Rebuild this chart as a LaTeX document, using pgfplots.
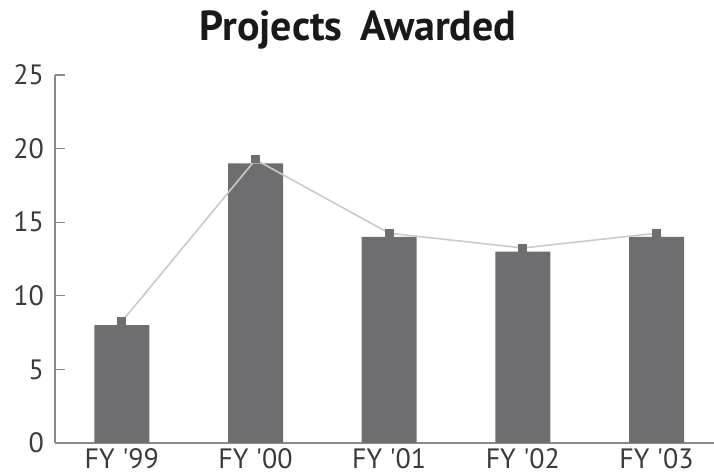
\documentclass[border=0pt]{standalone}
\usepackage{fontspec}
\setmainfont{PT Sans}
\usepackage{pgfplots}
\pgfplotsset{compat=1.18}

\definecolor{barcol}{HTML}{6E6E70}
\definecolor{linecol}{HTML}{CACACA}
\definecolor{axcol}{HTML}{8A8A8A}
\definecolor{txtcol}{HTML}{3A3A3A}

\begin{document}
\begin{tikzpicture}[x=0.5pt,y=0.5pt]
\path[use as bounding box] (0,0) rectangle (714,476);
\node[font=\bfseries\fontsize{21}{24}\selectfont, text=black!90] at (358,446) {Projects\ \,Awarded};
\begin{axis}[
    at={(27.5pt,16.5pt)}, anchor=south west,
    scale only axis,
    width=329.5pt, height=184pt,
    xmin=-0.5, xmax=4.43,
    ymin=0, ymax=25,
    clip=false,
    axis lines*=left,
    axis line style={axcol, line width=0.8pt},
    xtick={0,...,4},
    xticklabels={FY \textquotesingle 99,FY \textquotesingle 00,FY \textquotesingle 01,FY \textquotesingle 02,FY \textquotesingle 03},
    extra x ticks={0.5,1.5,2.5,3.5},
    extra x tick labels={},
    extra x tick style={major tick length=5pt, tick style={axcol, line width=0.6pt}},
    x tick style={draw=none},
    ytick={0,5,...,25},
    y tick style={axcol, line width=0.6pt},
    major tick length=5pt,
    tick align=inside,
    ticklabel style={font=\fontsize{14}{16}\selectfont, text=txtcol},
    /pgf/number format/assume math mode=true,
    xticklabel style={yshift=0.8pt},
    yticklabel style={xshift=-2pt},
]
\addplot[ybar, bar width=27.5pt, fill=barcol, draw=none, bar shift=0pt]
  coordinates {(0,8) (1,19) (2,14) (3,13) (4,14)};
\addplot[linecol, line width=0.8pt, mark=none]
  coordinates {(0,8.25) (1,19.25) (2,14.25) (3,13.25) (4,14.25)};
\addplot[draw=none, mark=none,
    error bars/.cd, y dir=plus, y explicit,
    error bar style={barcol, line width=4.5pt}, error mark=none]
  coordinates {(0,8) +- (0,0.55) (1,19) +- (0,0.55) (2,14) +- (0,0.55) (3,13) +- (0,0.55) (4,14) +- (0,0.55)};
\end{axis}
\end{tikzpicture}
\end{document}
